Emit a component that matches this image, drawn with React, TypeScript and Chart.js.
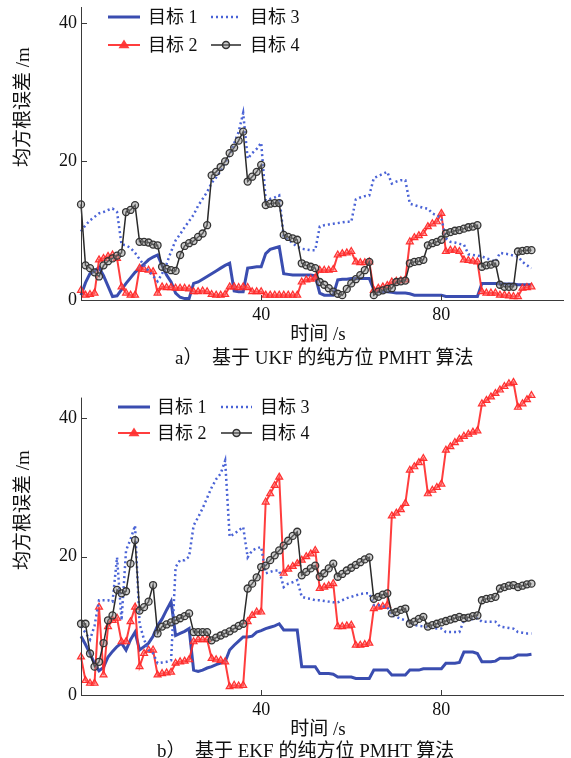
import React, { useEffect, useRef } from "react";
import { Chart, registerables } from "chart.js";

Chart.register(...registerables);

const FONT = '"Liberation Serif", "Noto Sans CJK SC", serif';
const AXIS_COLOR = "#3a3a3a";

// time axis (s)
const TIME_S = Array.from({ length: 101 }, (_, i) => i);
const X_TICKS = [40, 80];
const Y_TICKS = [0, 20, 40];
const SERIES_NAMES = ["目标 1", "目标 2", "目标 3", "目标 4"];
const Y_TITLE = "均方根误差 /m";
const X_TITLE = "时间 /s";
const CAPTION_A = "a）  基于 UKF 的纯方位 PMHT 算法";
const CAPTION_B = "b）  基于 EKF 的纯方位 PMHT 算法";

// ---- panel a: UKF ----
const UKF_T1 = [
  0.7, 2.5, 3.8, 4.2, 4.7, 3.5, 2.0, 0.5, 0.6, 1.5,
  2.4, 3.2, 4.0, 4.6, 5.2, 5.8, 6.2, 6.5, 5.0, 3.6,
  2.6, 1.0, 0.4, 0.2, 0.2, 2.4, 2.6, 3.0, 3.4, 3.8,
  4.2, 4.6, 5.0, 5.3, 1.3, 1.2, 1.2, 4.6, 4.7, 4.8,
  4.8, 6.7, 7.3, 7.5, 7.7, 3.8, 3.7, 3.6, 3.6, 3.6,
  3.6, 3.6, 3.5, 1.0, 0.7, 0.7, 0.7, 2.9, 3.0, 3.0,
  3.1, 3.1, 3.1, 3.1, 3.1, 1.5, 1.2, 1.2, 1.2, 1.1,
  1.0, 1.0, 1.0, 0.9, 0.7, 0.7, 0.7, 0.7, 0.7, 0.7,
  0.7, 0.5, 0.5, 0.5, 0.5, 0.5, 0.5, 0.5, 0.5, 2.4,
  2.4, 2.4, 2.4, 2.3, 2.3, 2.3, 2.3, 2.2, 2.2, 2.2, 2.2,
];
const UKF_T2 = [
  1.4, 0.7, 0.8, 1.0, 5.8, 6.0, 6.3, 6.5, 6.0, 1.9,
  1.0, 0.7, 0.7, 4.6, 4.4, 4.3, 4.1, 1.0, 1.9, 1.8,
  1.8, 1.7, 1.7, 1.7, 1.6, 1.2, 1.2, 1.3, 1.2, 0.8,
  0.7, 0.7, 0.8, 1.9, 1.9, 1.8, 1.9, 1.8, 1.2, 1.2,
  1.2, 0.7, 0.7, 0.7, 0.7, 0.7, 0.7, 0.7, 0.7, 2.6,
  2.9, 3.0, 3.2, 4.3, 4.3, 4.3, 4.4, 6.5, 6.7, 6.8,
  7.0, 5.5, 5.4, 5.4, 5.5, 1.4, 1.7, 1.9, 2.1, 2.6,
  2.7, 2.8, 2.9, 8.4, 9.0, 9.3, 9.6, 10.6, 11.0, 11.3,
  12.5, 7.0, 7.2, 7.2, 7.0, 5.8, 5.7, 5.6, 5.5, 1.2,
  1.0, 1.0, 1.0, 0.7, 0.7, 0.6, 0.5, 0.5, 1.7, 1.8, 1.9,
];
const UKF_T3 = [
  9.9, 10.8, 11.5, 12.0, 12.5, 12.7, 13.0, 13.2, 12.7, 8.0,
  7.9, 7.5, 6.8, 5.9, 5.0, 4.2, 3.5, 2.7, 3.8, 5.2,
  7.0, 8.6, 9.5, 10.5, 11.4, 12.3, 13.6, 14.6, 15.6, 16.9,
  17.7, 18.6, 19.8, 21.0, 22.6, 24.3, 27.0, 20.4, 21.2, 21.8,
  22.7, 14.4, 14.6, 14.8, 15.1, 9.1, 8.7, 8.2, 7.7, 7.4,
  7.3, 7.2, 7.2, 10.6, 10.8, 10.9, 11.0, 11.1, 11.2, 11.3,
  11.3, 14.5, 14.8, 15.0, 15.1, 17.6, 17.9, 18.2, 18.5, 16.8,
  17.1, 17.3, 17.3, 13.9, 13.7, 13.5, 13.3, 13.2, 12.5, 12.2,
  11.8, 8.9, 8.4, 8.3, 8.1, 8.0, 6.6, 6.5, 6.4, 6.3,
  6.0, 5.8, 5.5, 6.8, 6.7, 6.6, 6.4, 6.3, 5.5, 5.0, 4.6,
];
const UKF_T4 = [
  13.8, 5.0, 4.6, 4.0, 3.4, 5.0, 5.6, 6.0, 6.4, 6.8,
  12.7, 13.0, 13.7, 8.4, 8.4, 8.3, 8.0, 7.9, 4.8, 4.5,
  4.3, 4.2, 6.5, 7.8, 8.2, 8.5, 9.1, 9.6, 10.8, 18.0,
  18.5, 19.2, 20.0, 21.2, 22.0, 23.0, 24.3, 17.1, 17.8, 18.5,
  19.5, 13.7, 13.9, 14.0, 14.0, 9.4, 9.1, 8.9, 8.7, 5.3,
  5.0, 4.8, 4.6, 2.6, 2.2, 1.7, 1.2, 0.9, 0.7, 1.6,
  2.4, 3.0, 3.6, 4.3, 5.5, 0.7, 1.2, 1.4, 1.6, 1.7,
  2.6, 2.7, 2.8, 5.3, 5.5, 5.6, 5.8, 7.9, 8.2, 8.4,
  8.7, 9.6, 9.8, 10.0, 10.1, 10.3, 10.5, 10.6, 10.8, 4.8,
  5.0, 5.1, 5.3, 2.2, 1.9, 1.9, 1.9, 7.0, 7.1, 7.2, 7.2,
];

// ---- panel b: EKF ----
const EKF_T1 = [
  8.5, 7.3, 6.0, 4.5, 3.5, 4.0, 5.5, 6.3, 7.0, 7.5,
  6.5, 8.0, 9.1, 6.5, 7.0, 7.5, 8.5, 10.0, 11.0, 12.3,
  13.5, 8.6, 8.9, 9.2, 9.6, 3.6, 3.4, 3.6, 3.9, 4.1,
  4.4, 4.6, 4.8, 6.5, 7.2, 7.8, 8.4, 8.4, 8.5, 9.1,
  9.3, 9.6, 9.8, 10.0, 10.3, 9.4, 9.4, 9.4, 9.4, 4.1,
  4.1, 4.1, 4.1, 3.1, 3.1, 3.1, 3.0, 2.6, 2.6, 2.6,
  2.6, 2.4, 2.4, 2.4, 2.4, 3.6, 3.6, 3.6, 3.6, 2.9,
  2.9, 2.9, 2.9, 3.6, 3.6, 3.6, 3.8, 3.8, 3.8, 3.8,
  3.8, 4.6, 4.6, 4.6, 4.7, 6.2, 6.2, 6.2, 6.0, 4.8,
  4.8, 4.8, 4.9, 5.3, 5.3, 5.3, 5.4, 5.8, 5.8, 5.8, 5.9,
];
const EKF_T2 = [
  5.5, 2.1, 1.7, 1.7, 12.7, 2.9, 9.9, 10.8, 11.1, 7.7,
  7.7, 10.6, 12.7, 4.1, 6.0, 6.5, 6.5, 2.9, 3.1, 3.2,
  3.3, 4.6, 4.8, 4.9, 5.1, 7.7, 8.0, 8.0, 8.0, 5.3,
  5.1, 5.0, 4.8, 1.2, 1.4, 1.3, 1.4, 10.6, 11.5, 12.0,
  12.0, 27.9, 29.1, 30.3, 31.5, 17.6, 18.2, 18.6, 19.0, 19.5,
  20.0, 20.4, 20.9, 15.4, 15.6, 15.8, 16.1, 9.9, 9.9, 10.0,
  10.1, 7.2, 7.2, 7.3, 7.5, 12.5, 12.7, 12.8, 13.0, 25.9,
  26.3, 26.8, 27.7, 32.5, 33.0, 33.6, 34.2, 29.1, 29.6, 30.0,
  30.5, 35.4, 35.9, 36.5, 37.0, 37.4, 37.7, 38.0, 38.2, 42.1,
  42.6, 43.1, 43.6, 44.1, 44.6, 45.0, 45.2, 41.6, 42.1, 42.7, 43.3,
];
const EKF_T3 = [
  9.9, 9.0, 8.0, 10.0, 13.7, 13.7, 13.7, 13.5, 19.9, 10.8,
  20.9, 22.5, 24.5, 10.3, 8.0, 6.5, 6.0, 4.6, 4.7, 4.8,
  5.0, 18.5, 19.5, 19.5, 20.0, 24.5, 25.7, 27.0, 28.5, 30.0,
  31.2, 32.0, 33.9, 22.9, 23.3, 23.8, 24.3, 19.9, 20.9, 21.2,
  21.4, 17.6, 17.8, 18.0, 18.0, 15.6, 16.1, 16.3, 16.6, 14.2,
  14.0, 13.9, 13.7, 13.7, 13.6, 13.5, 13.4, 13.4, 13.7, 14.0,
  14.2, 14.4, 14.6, 14.7, 14.7, 13.0, 13.0, 12.8, 12.7, 11.5,
  11.3, 11.0, 10.8, 10.6, 10.1, 10.0, 9.9, 9.8, 9.7, 9.6,
  9.6, 9.1, 9.1, 9.1, 9.1, 10.8, 10.9, 11.0, 11.1, 10.6,
  10.6, 10.6, 10.6, 9.9, 9.8, 9.7, 9.6, 9.1, 9.0, 8.9, 8.9,
];
const EKF_T4 = [
  10.3, 10.3, 6.0, 4.1, 4.8, 7.5, 10.8, 11.5, 15.2, 14.7,
  15.0, 19.0, 22.4, 12.2, 12.7, 13.5, 15.9, 8.9, 9.9, 10.2,
  10.5, 10.8, 11.1, 11.4, 11.8, 9.1, 9.1, 9.1, 9.1, 7.9,
  8.3, 8.6, 8.9, 9.2, 9.6, 10.0, 10.3, 15.4, 16.1, 17.0,
  18.5, 18.7, 19.5, 20.2, 20.9, 21.6, 22.3, 23.0, 23.6, 17.3,
  17.8, 18.3, 18.7, 17.1, 17.6, 18.3, 19.0, 17.1, 17.5, 18.0,
  18.4, 18.8, 19.2, 19.6, 19.9, 13.9, 14.2, 14.5, 14.7, 11.8,
  12.0, 12.3, 12.5, 10.3, 10.6, 11.0, 11.3, 9.9, 10.1, 10.3,
  10.5, 10.7, 10.9, 11.1, 11.3, 11.1, 11.2, 11.4, 11.5, 13.7,
  13.9, 14.0, 14.2, 15.4, 15.6, 15.8, 15.9, 15.6, 15.8, 16.0, 16.1,
];

const STYLES: any[] = [
  { borderColor: "#3a4db0", borderWidth: 3, pointRadius: 0, order: 4 },
  {
    borderColor: "rgba(255,40,40,0.9)", borderWidth: 2, pointStyle: "triangle", pointRadius: 4,
    pointBorderWidth: 1.2, pointBorderColor: "rgba(255,40,40,0.95)", pointBackgroundColor: "rgba(255,110,110,0.5)", order: 3,
  },
  { borderColor: "#4a63d6", borderWidth: 2.5, borderDash: [2, 3], pointRadius: 0, order: 2 },
  {
    borderColor: "#2a2a2a", borderWidth: 1.5, pointStyle: "circle", pointRadius: 3.5,
    pointBorderWidth: 1.3, pointBorderColor: "#333", pointBackgroundColor: "rgba(140,140,140,0.45)", order: 1,
  },
];

type LegendPos = { c0: number; c1: number; t0: number; t1: number; r0: number; r1: number; len0: number; len1: number };

function makePlugin(legend: LegendPos, axisTop: number) {
  return {
    id: "decor",
    afterDraw(chart: any) {
      const { ctx, chartArea, scales } = chart;
      ctx.save();
      ctx.strokeStyle = AXIS_COLOR;
      ctx.lineWidth = 1;
      ctx.setLineDash([]);
      // y axis line up to its visible top value
      const ax = Math.round(chartArea.left) + 0.5;
      ctx.beginPath();
      ctx.moveTo(ax, chartArea.bottom);
      ctx.lineTo(ax, scales.y.getPixelForValue(axisTop));
      ctx.stroke();
      // inward tick marks
      Y_TICKS.forEach((v) => {
        const y = Math.round(scales.y.getPixelForValue(v)) + 0.5;
        ctx.beginPath();
        ctx.moveTo(chartArea.left, y);
        ctx.lineTo(chartArea.left + 6, y);
        ctx.stroke();
      });
      X_TICKS.forEach((v) => {
        const x = Math.round(scales.x.getPixelForValue(v)) + 0.5;
        ctx.beginPath();
        ctx.moveTo(x, chartArea.bottom);
        ctx.lineTo(x, chartArea.bottom - 5);
        ctx.stroke();
      });
      // legend
      const slots = [
        { x: legend.c0, tx: legend.t0, y: legend.r0, len: legend.len0 },
        { x: legend.c0, tx: legend.t0, y: legend.r1, len: legend.len0 },
        { x: legend.c1, tx: legend.t1, y: legend.r0, len: legend.len1 },
        { x: legend.c1, tx: legend.t1, y: legend.r1, len: legend.len1 },
      ];
      chart.data.datasets.forEach((ds: any, i: number) => {
        const s = slots[i];
        ctx.save();
        ctx.strokeStyle = ds.borderColor;
        ctx.lineWidth = ds.borderWidth;
        ctx.setLineDash(ds.borderDash || []);
        ctx.beginPath();
        ctx.moveTo(s.x, s.y);
        ctx.lineTo(s.x + s.len, s.y);
        ctx.stroke();
        ctx.setLineDash([]);
        const cx = s.x + s.len / 2;
        if (ds.pointStyle === "triangle") {
          const r = 5.5;
          ctx.fillStyle = "rgba(255,50,50,0.95)";
          ctx.beginPath();
          ctx.moveTo(cx, s.y - r);
          ctx.lineTo(cx + r, s.y + r * 0.6);
          ctx.lineTo(cx - r, s.y + r * 0.6);
          ctx.closePath();
          ctx.fill();
        } else if (ds.pointStyle === "circle") {
          ctx.fillStyle = ds.pointBackgroundColor;
          ctx.strokeStyle = ds.pointBorderColor;
          ctx.lineWidth = 1.5;
          ctx.beginPath();
          ctx.arc(cx, s.y, 3.5, 0, Math.PI * 2);
          ctx.fill();
          ctx.stroke();
        }
        ctx.fillStyle = "#111";
        ctx.font = `18px ${FONT}`;
        ctx.textBaseline = "middle";
        ctx.textAlign = "left";
        ctx.fillText(ds.label, s.tx, s.y + 1);
        ctx.restore();
      });
      ctx.restore();
    },
  };
}

type PanelProps = {
  top: number;
  height: number;
  padTop: number;
  yMax: number;
  axisTop: number;
  series: number[][];
  legend: LegendPos;
};

const CANVAS_W = 571;

function Panel({ top, height, padTop, yMax, axisTop, series, legend }: PanelProps) {
  const ref = useRef<HTMLCanvasElement | null>(null);
  useEffect(() => {
    if (!ref.current) return;
    const datasets = series.map((vals, i) => ({
      label: SERIES_NAMES[i],
      data: vals.map((v, k) => ({ x: TIME_S[k], y: v })),
      fill: false,
      tension: 0,
      clip: false,
      ...STYLES[i],
    }));
    const tickFont = { family: FONT, size: 18 };
    const chart = new Chart(ref.current, {
      type: "line",
      data: { datasets } as any,
      options: {
        animation: false,
        responsive: false,
        devicePixelRatio: 1,
        events: [],
        layout: { padding: { top: padTop, right: 8, left: 0, bottom: 0 } },
        plugins: { legend: { display: false }, tooltip: { enabled: false }, title: { display: false } },
        scales: {
          x: {
            type: "linear",
            min: 0,
            max: 107,
            afterBuildTicks: (s: any) => {
              s.ticks = X_TICKS.map((v) => ({ value: v }));
            },
            afterFit: (s: any) => {
              s.height = 30;
              s.paddingLeft = 0;
              s.paddingRight = 0;
            },
            grid: { display: false, drawTicks: false },
            border: { display: true, color: AXIS_COLOR, width: 1 },
            ticks: { font: tickFont, color: "#111", padding: 4, maxRotation: 0, autoSkip: false },
          },
          y: {
            type: "linear",
            min: 0,
            max: yMax,
            afterBuildTicks: (s: any) => {
              s.ticks = Y_TICKS.map((v) => ({ value: v }));
            },
            afterFit: (s: any) => {
              s.width = 81;
              s.paddingTop = 0;
              s.paddingBottom = 0;
            },
            grid: { display: false, drawTicks: false },
            border: { display: false },
            ticks: { font: tickFont, color: "#111", padding: 4, autoSkip: false },
          },
        },
      } as any,
      plugins: [makePlugin(legend, axisTop) as any],
    });
    return () => chart.destroy();
  }, []);
  return (
    <canvas
      ref={ref}
      width={CANVAS_W}
      height={height}
      style={{ position: "absolute", left: 0, top, width: CANVAS_W, height }}
    />
  );
}

const textBase: React.CSSProperties = {
  position: "absolute",
  fontFamily: FONT,
  fontSize: 19,
  lineHeight: "19px",
  color: "#111",
  whiteSpace: "pre",
};

function Label({ x, y, text, rotate = false, left = false }: { x: number; y: number; text: string; rotate?: boolean; left?: boolean }) {
  const transform = rotate
    ? "translate(-50%, -50%) rotate(-90deg)"
    : left
    ? "translate(0, -50%)"
    : "translate(-50%, -50%)";
  return <div style={{ ...textBase, left: x, top: y, transform }}>{text}</div>;
}

export default function App() {
  return (
    <div style={{ position: "absolute", left: 0, top: 0, width: 571, height: 758, background: "#fff", overflow: "hidden" }}>
      <Panel
        top={0}
        height={330}
        padTop={7}
        yMax={42.3}
        axisTop={42.3}
        series={[UKF_T1, UKF_T2, UKF_T3, UKF_T4]}
        legend={{ c0: 108, c1: 211, t0: 148, t1: 250, r0: 17, r1: 45, len0: 32, len1: 30 }}
      />
      <Panel
        top={375}
        height={350}
        padTop={5}
        yMax={45.5}
        axisTop={43}
        series={[EKF_T1, EKF_T2, EKF_T3, EKF_T4]}
        legend={{ c0: 118, c1: 221, t0: 157, t1: 260, r0: 32, r1: 58, len0: 32, len1: 31 }}
      />
      <Label x={22} y={107} text={Y_TITLE} rotate />
      <Label x={22} y={510} text={Y_TITLE} rotate />
      <Label x={318} y={333} text={X_TITLE} />
      <Label x={318} y={728} text={X_TITLE} />
      <Label x={175} y={357} text={CAPTION_A} left />
      <Label x={157} y={750} text={CAPTION_B} left />
    </div>
  );
}
